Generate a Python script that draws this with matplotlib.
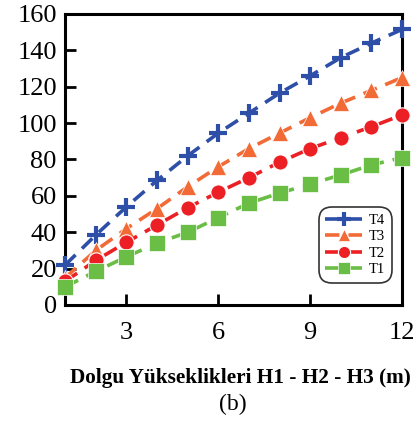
import matplotlib
matplotlib.use("Agg")
import matplotlib.pyplot as plt
import numpy as np

plt.rcParams["font.family"] = ["Liberation Serif", "DejaVu Serif"]

x = np.arange(1, 13)
t4 = [22, 38.5, 54, 68.5, 82, 94.5, 105.5, 116.5, 126, 136, 144, 151.5]
t3 = [15, 30, 42, 53, 65, 76, 86, 94.5, 103, 111, 118, 125]
t2 = [13, 24.5, 34.5, 44, 53.5, 62, 70, 78.5, 86, 92, 98, 104.5]
t1 = [10, 18.5, 26.5, 34, 40, 48, 56, 61.5, 66.5, 71.5, 77, 81]
labels = ["T4", "T3", "T2", "T1"]

fig = plt.figure(figsize=(4.18, 4.23), dpi=100)
ax = fig.add_axes([0.156, 0.279, 0.806, 0.688])

styles = [
    (t4, "#2E4FA8", "+", 13, 3.0),
    (t3, "#F26A36", "^", 11, 0.5),
    (t2, "#EC1F24", "o", 11, 0.8),
    (t1, "#6ABD45", "s", 11, 0.5),
]
for (y, c, m, ms, mew), lab in zip(styles, labels):
    if m == "+":
        ax.plot(x, y, color=c, ls=(0, (4, 2.5)), lw=2.6, marker=m, ms=ms,
                mew=mew, label=lab, clip_on=False, zorder=3)
    else:
        ax.plot(x, y, color=c, ls=(0, (4, 2.5)), lw=2.6, marker=m, ms=ms,
                mec="white", mew=mew, label=lab, clip_on=False, zorder=3)

ax.set_xlim(1, 12)
ax.set_ylim(0, 160)
ax.set_xticks([3, 6, 9, 12])
ax.set_yticks(np.arange(0, 161, 20))
ax.tick_params(direction="in", length=8, width=2, labelsize=19, pad=6)
ax.tick_params(axis="x", pad=12)
for s in ax.spines.values():
    s.set_linewidth(2.2)

leg = ax.legend(loc="lower right", bbox_to_anchor=(0.970, 0.076), fontsize=10.5,
                handlelength=2.5, frameon=True, edgecolor="black",
                borderaxespad=0, borderpad=0.45, labelspacing=0.22,
                handletextpad=0.5, markerscale=0.8)
leg.get_frame().set_linewidth(1.2)
leg.get_frame().set_boxstyle("round,pad=0,rounding_size=0.9")

fig.text(0.574, 0.107, "Dolgu Yükseklikleri H1 - H2 - H3 (m)", ha="center",
         va="center", fontsize=15.3, fontweight="bold")
fig.text(0.557, 0.043, "(b)", ha="center", va="center", fontsize=17)

fig.savefig("out.png", dpi=100)
